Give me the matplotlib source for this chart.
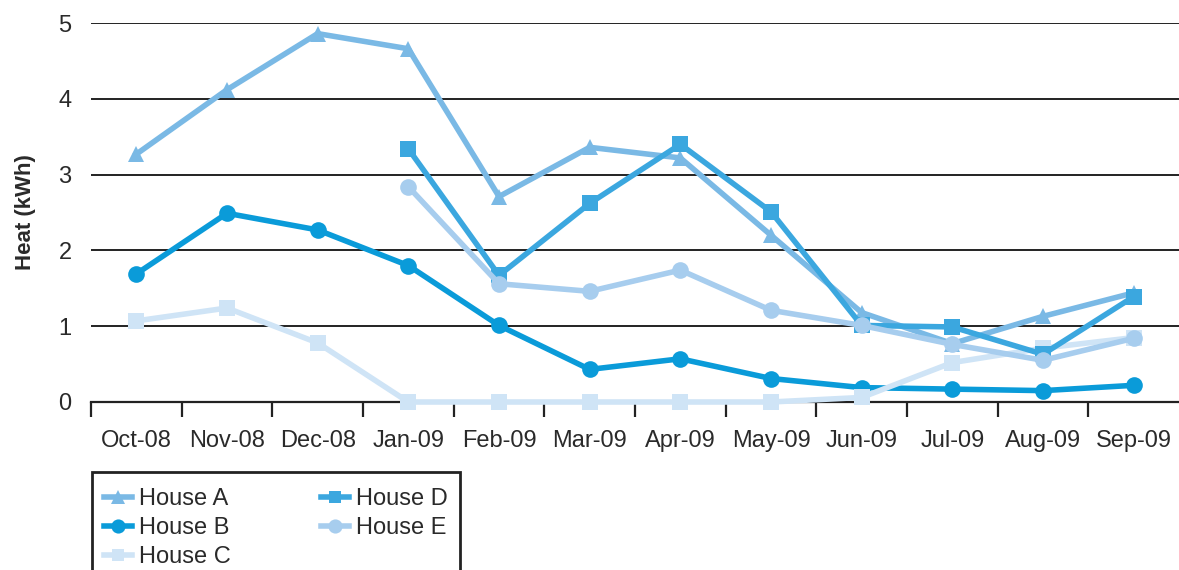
import matplotlib
matplotlib.use("Agg")
import matplotlib.pyplot as plt
from matplotlib.patches import Rectangle
import numpy as np

plt.rcParams['font.family'] = ['Liberation Sans', 'DejaVu Sans']

months = ["Oct-08", "Nov-08", "Dec-08", "Jan-09", "Feb-09", "Mar-09",
          "Apr-09", "May-09", "Jun-09", "Jul-09", "Aug-09", "Sep-09"]
house_a = [3.27, 4.12, 4.86, 4.66, 2.71, 3.36, 3.22, 2.20, 1.18, 0.77, 1.13, 1.44]
house_b = [1.69, 2.49, 2.27, 1.80, 1.01, 0.43, 0.57, 0.31, 0.19, 0.17, 0.15, 0.22]
house_c = [1.07, 1.24, 0.78, 0.0, 0.0, 0.0, 0.0, 0.0, 0.06, 0.52, 0.71, 0.85]
house_d = [None, None, None, 3.34, 1.67, 2.62, 3.40, 2.51, 1.01, 0.99, 0.63, 1.39]
house_e = [None, None, None, 2.84, 1.56, 1.46, 1.74, 1.21, 1.01, 0.76, 0.55, 0.84]

series = [
    ("House A", house_a, "^", "#7ab9e5"),
    ("House B", house_b, "o", "#0a9bd9"),
    ("House C", house_c, "s", "#cfe4f6"),
    ("House D", house_d, "s", "#3ba7df"),
    ("House E", house_e, "o", "#a7cdee"),
]

TXT = "#2a2a2a"
W, H = 1179, 570

fig = plt.figure(figsize=(W / 100, H / 100), dpi=100)
ax = fig.add_axes([91/W, 1 - 402/H, 1 - 91/W, (402 - 23)/H])

x = np.arange(len(months))
draw_order = [2, 4, 0, 3, 1]
handles = {}
for i in draw_order:
    name, vals, mk, col = series[i]
    xs = [xi for xi, v in zip(x, vals) if v is not None]
    ys = [v for v in vals if v is not None]
    ms = 12 if mk == "^" else (11 if mk == "s" else 12)
    h, = ax.plot(xs, ys, marker=mk, color=col, lw=4, ms=ms,
                 markeredgewidth=0, clip_on=False, label=name, zorder=3 + i * 0.1)
    handles[name] = h

ax.set_xlim(-0.5, len(months) - 0.5)
ax.set_ylim(0, 5)
ax.set_yticks([0, 1, 2, 3, 4, 5])
ax.set_yticklabels(["0", "1", "2", "3", "4", "5"])
for yv in [1, 2, 3, 4, 5]:
    ax.axhline(yv, color="#222222", lw=1.4, zorder=1)

ax.set_xticks(x)
ax.set_xticklabels(months)
ax.set_xticks(np.arange(-0.5, len(months) - 0.5, 1), minor=True)
ax.tick_params(axis="x", which="major", length=0, pad=20, labelsize=17, colors=TXT)
ax.tick_params(axis="x", which="minor", length=11, width=1.6, direction="out", color="#222222")
ax.tick_params(axis="y", length=0, pad=14, labelsize=17, colors=TXT)

for s in ["top", "right", "left"]:
    ax.spines[s].set_visible(False)
ax.spines["bottom"].set_color("#222222")
ax.spines["bottom"].set_linewidth(1.6)

ax.set_ylabel("Heat (kWh)", fontsize=16, fontweight="bold", color=TXT, labelpad=16)

# legend box (extends past the bottom edge, as in the reference)
fig.patches.append(Rectangle((92/W, 1 - 600/H), (460 - 92)/W, (600 - 472)/H,
                             transform=fig.transFigure, fill=False,
                             edgecolor="#222222", lw=2))

order = ["House A", "House B", "House C", "House D", "House E"]
leg = fig.legend([handles[n] for n in order], order, ncol=2,
                 loc="upper left", bbox_to_anchor=(104/W, 1 - 488/H),
                 frameon=False, fontsize=17,
                 handlelength=1.2, handletextpad=0.3, columnspacing=3.8,
                 labelspacing=0.3, borderpad=0, markerscale=0.85,
                 borderaxespad=0)
for t in leg.get_texts():
    t.set_color(TXT)

fig.savefig("out.png", dpi=100)
